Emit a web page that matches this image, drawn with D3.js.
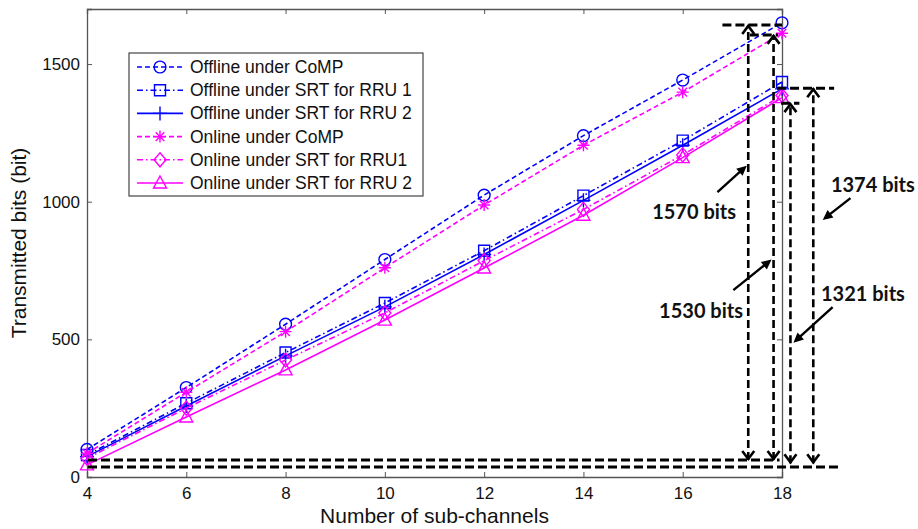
<!DOCTYPE html>
<html><head><meta charset="utf-8">
<script src="https://cdn.jsdelivr.net/npm/d3@7"></script>
<style>body{margin:0;background:#fff}svg{display:block}</style>
</head><body>
<svg id="c" width="918" height="529"></svg>
<script>
const subChannels = [4, 6, 8, 10, 12, 14, 16, 18];
const offlineCoMP   = [100, 325, 555, 790, 1024, 1240, 1442, 1650];
const offlineSRT1   = [80, 268, 452, 632, 822, 1022, 1222, 1435];
const offlineSRT2   = [74, 258, 440, 618, 808, 1005, 1205, 1410];
const onlineCoMP    = [86, 308, 528, 760, 988, 1205, 1398, 1612];
const onlineSRT1    = [68, 250, 425, 596, 786, 972, 1170, 1386];
const onlineSRT2    = [44, 218, 389, 570, 759, 951, 1160, 1378];
const seriesNames = ["Offline under CoMP","Offline under SRT for RRU 1","Offline under SRT for RRU 2","Online under CoMP","Online under SRT for RRU1","Online under SRT for RRU 2"];
const xTicks = [4, 6, 8, 10, 12, 14, 16, 18];
const yTicks = [0, 500, 1000, 1500];
// annotation levels (data units)
const annoH = [{y:1642,x0:16.8,x1:18},{y:1606,x0:17.35,x1:17.92},{y:1412,x0:17.9,x1:19.05},{y:1358,x0:17.98,x1:18.35},{y:62,x0:4.02,x1:17.95},{y:36,x0:4.02,x1:19.2}];
const annoV = [{x:17.32,y0:62,y1:1642},{x:17.83,y0:62,y1:1606},{x:18.17,y0:50,y1:1358},{x:18.63,y0:50,y1:1412}];
const annoLabels = [{t:"1570 bits",x:16.23,y:968},{t:"1374 bits",x:19.83,y:1066},{t:"1530 bits",x:16.37,y:605},{t:"1321 bits",x:19.63,y:670}];
const annoArrows = [{x0:16.70,y0:1035,x1:17.29,y1:1131},{x0:19.38,y0:1013,x1:18.82,y1:934},{x0:17.02,y0:679,x1:17.79,y1:790},{x0:19.02,y0:617,x1:18.23,y1:488}];

const svg = d3.select("#c");
const x = d3.scaleLinear().domain([4,18]).range([87,782]);
const y = d3.scaleLinear().domain([0,1700]).range([477,9]);
const BLUE = "#0000ff", MAG = "#ff00ff";
const styles = [
  {c:BLUE,d:"5,3",m:"circle"},
  {c:BLUE,d:"6,3,1.5,3",m:"square"},
  {c:BLUE,d:null,m:"plus"},
  {c:MAG,d:"5,3",m:"star"},
  {c:MAG,d:"6,3,1.5,3",m:"diamond"},
  {c:MAG,d:null,m:"triangle"}
];
const allSeries = [offlineCoMP, offlineSRT1, offlineSRT2, onlineCoMP, onlineSRT1, onlineSRT2];

function markerPath(m){
  switch(m){
    case "circle": return d3.symbol(d3.symbolCircle, 110)();
    case "square": return "M-5.5,-5.5H5.5V5.5H-5.5Z";
    case "plus": return "M-7,0H7M0,-7V7";
    case "star": return "M-6,0H6M0,-6V6M-4.3,-4.3L4.3,4.3M-4.3,4.3L4.3,-4.3";
    case "diamond": return "M0,-7L6,0L0,7L-6,0Z";
    case "triangle": return "M0,-7L6.5,5L-6.5,5Z";
  }
}
const FONT = "Liberation Sans, Arial, sans-serif";

// axes
const gx = svg.append("g").attr("transform",`translate(0,${y(0)})`)
  .call(d3.axisBottom(x).tickValues(xTicks).tickSize(-5).tickPadding(10).tickFormat(d3.format("d")));
const gxt = svg.append("g").attr("transform",`translate(0,${y(1700)})`)
  .call(d3.axisTop(x).tickValues(xTicks).tickSize(-5).tickFormat(""));
const gy = svg.append("g").attr("transform",`translate(${x(4)},0)`)
  .call(d3.axisLeft(y).tickValues(yTicks).tickSize(-5).tickPadding(7).tickFormat(d3.format("d")));
const gyr = svg.append("g").attr("transform",`translate(${x(18)},0)`)
  .call(d3.axisRight(y).tickValues(yTicks).tickSize(-5).tickFormat(""));
[gx,gxt,gy,gyr].forEach(g=>{
  g.selectAll("path.domain").attr("stroke","#555").attr("stroke-width",1.3);
  g.selectAll(".tick line").attr("stroke","#555");
  g.selectAll("text").attr("font-family",FONT).attr("font-size",17).attr("fill","#111");
});

svg.append("text").attr("x",x(11)).attr("y",523).attr("text-anchor","middle")
  .attr("font-family",FONT).attr("font-size",21).attr("fill","#111")
  .text("Number of sub-channels");
svg.append("text").attr("transform",`translate(26,${y(850)}) rotate(-90)`).attr("text-anchor","middle")
  .attr("font-family",FONT).attr("font-size",21).attr("fill","#111")
  .text("Transmitted bits (bit)");

// series
const line = d3.line().x((d,i)=>x(subChannels[i])).y(d=>y(d));
allSeries.forEach((s,k)=>{
  const st = styles[k];
  svg.append("path").datum(s).attr("d",line).attr("fill","none")
    .attr("stroke",st.c).attr("stroke-width",1.6).attr("stroke-dasharray",st.d);
  svg.append("g").selectAll("path").data(s).join("path")
    .attr("transform",(d,i)=>`translate(${x(subChannels[i])},${y(d)})`)
    .attr("d",markerPath(st.m)).attr("fill","none").attr("stroke",st.c).attr("stroke-width",1.4);
});

// annotations
const ag = svg.append("g");
ag.selectAll("line.h").data(annoH).join("line")
  .attr("x1",d=>x(d.x0)).attr("x2",d=>x(d.x1)).attr("y1",d=>y(d.y)).attr("y2",d=>y(d.y))
  .attr("stroke","#000").attr("stroke-width",3).attr("stroke-dasharray","9,4");
ag.selectAll("line.v").data(annoV).join("line")
  .attr("x1",d=>x(d.x)).attr("x2",d=>x(d.x)).attr("y1",d=>y(d.y0)).attr("y2",d=>y(d.y1))
  .attr("stroke","#000").attr("stroke-width",2.6).attr("stroke-dasharray","8,4");
annoV.forEach(d=>{
  const xx = x(d.x), yt = y(d.y1), yb = y(d.y0);
  ag.append("path").attr("d",`M${xx-6},${yt+9}L${xx},${yt+1}L${xx+6},${yt+9}`)
    .attr("fill","none").attr("stroke","#000").attr("stroke-width",2.6);
  ag.append("path").attr("d",`M${xx-6},${yb-9}L${xx},${yb-1}L${xx+6},${yb-9}`)
    .attr("fill","none").attr("stroke","#000").attr("stroke-width",2.6);
});
annoArrows.forEach(d=>{
  const x0=x(d.x0),y0=y(d.y0),x1=x(d.x1),y1=y(d.y1);
  const a=Math.atan2(y1-y0,x1-x0), L=11, w=0.45;
  ag.append("line").attr("x1",x0).attr("y1",y0).attr("x2",x1-Math.cos(a)*6).attr("y2",y1-Math.sin(a)*6)
    .attr("stroke","#000").attr("stroke-width",2.4);
  ag.append("path").attr("d",`M${x1},${y1}L${x1-L*Math.cos(a-w)},${y1-L*Math.sin(a-w)}L${x1-L*Math.cos(a+w)},${y1-L*Math.sin(a+w)}Z`)
    .attr("fill","#000");
});
ag.selectAll("text").data(annoLabels).join("text")
  .attr("x",d=>x(d.x)).attr("y",d=>y(d.y)).attr("text-anchor","middle").attr("dominant-baseline","central")
  .attr("font-family","Lato, Open Sans, sans-serif").attr("font-weight","bold").attr("font-size",20).attr("fill","#111")
  .text(d=>d.t);

// legend
const lg = svg.append("g");
lg.append("rect").attr("x",129).attr("y",53).attr("width",294).attr("height",143)
  .attr("fill","#fff").attr("stroke","#444").attr("stroke-width",1.2);
seriesNames.forEach((n,k)=>{
  const st = styles[k], yy = 67 + k*23.2;
  lg.append("line").attr("x1",137).attr("x2",183).attr("y1",yy).attr("y2",yy)
    .attr("stroke",st.c).attr("stroke-width",1.6).attr("stroke-dasharray",st.d);
  lg.append("path").attr("transform",`translate(160,${yy})`).attr("d",markerPath(st.m))
    .attr("fill","none").attr("stroke",st.c).attr("stroke-width",1.4);
  lg.append("text").attr("x",190).attr("y",yy).attr("dominant-baseline","central")
    .attr("font-family",FONT).attr("font-size",17.5).attr("fill","#111").text(n);
});
</script>
</body></html>
